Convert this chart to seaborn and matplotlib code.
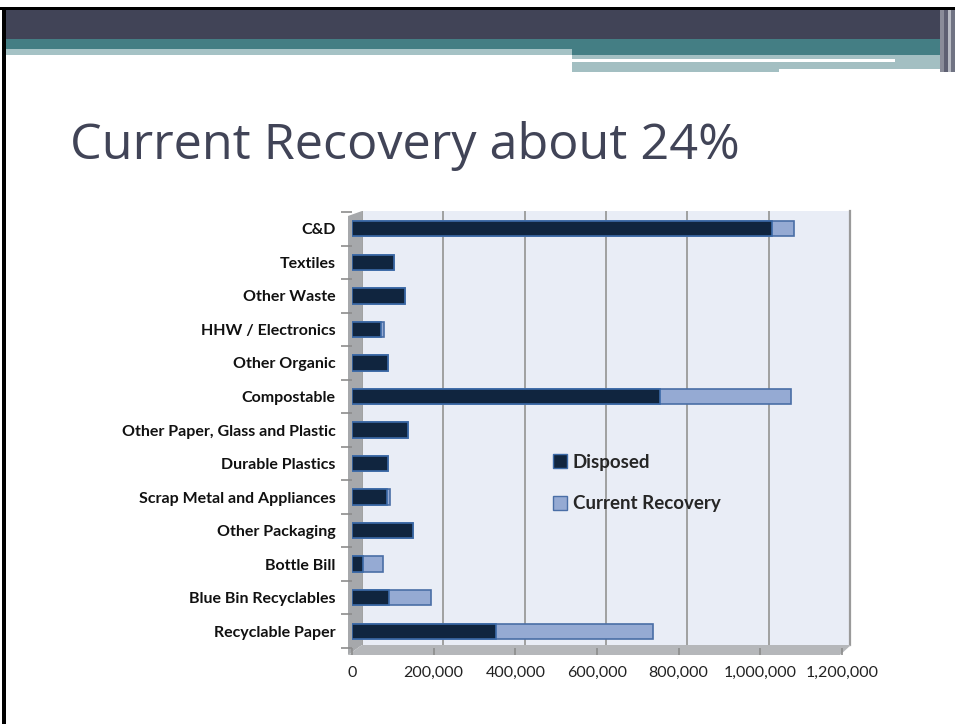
import matplotlib
matplotlib.use("Agg")
import matplotlib.pyplot as plt
import matplotlib.patches as mpatches
from matplotlib.ticker import FuncFormatter, FixedLocator
import seaborn as sns
import pandas as pd
import numpy as np

categories = ["C&D", "Textiles", "Other Waste", "HHW / Electronics", "Other Organic",
              "Compostable", "Other Paper, Glass and Plastic", "Durable Plastics",
              "Scrap Metal and Appliances", "Other Packaging", "Bottle Bill",
              "Blue Bin Recyclables", "Recyclable Paper"]
disposed = [1028000, 104000, 131000, 70000, 87000, 754000, 136000, 88000,
            85000, 149000, 27000, 91000, 352000]
recovery = [55000, 0, 0, 8000, 0, 320000, 0, 0, 8000, 0, 48000, 102000, 385000]
x_ticks = [0, 200000, 400000, 600000, 800000, 1000000, 1200000]
series_names = ["Disposed", "Current Recovery"]
title_text = "Current Recovery about 24%"

df = pd.DataFrame({"category": categories, "disposed": disposed, "recovery": recovery})
df["total"] = df["disposed"] + df["recovery"]

W, H = 955, 724
sns.set_theme(style="white")
plt.rcParams["font.family"] = ["Lato", "DejaVu Sans"]
fig = plt.figure(figsize=(W / 100, H / 100), dpi=100)
fig.patch.set_facecolor("white")

def frect(x0, y0, x1, y1, color, z=0):
    fig.patches.append(mpatches.Rectangle((x0 / W, 1 - y1 / H), (x1 - x0) / W, (y1 - y0) / H,
                                          transform=fig.transFigure, color=color, zorder=z, lw=0))

def fpoly(pts, color, z=0):
    fig.patches.append(mpatches.Polygon([(x / W, 1 - y / H) for x, y in pts], closed=True,
                                        transform=fig.transFigure, color=color, zorder=z, lw=0))

def fax(l, t, r, b, z):
    return fig.add_axes([l / W, 1 - b / H, (r - l) / W, (b - t) / H], zorder=z)

# slide header decorations
frect(0, 7, W, 10, "black")
frect(2, 7, 6, H, "black")
frect(6, 10, 940, 39, "#414457")
frect(6, 39, W, 49, "#447E84")
frect(6, 49, 572, 55, "#A5C2C5")
frect(572, 49, W, 55, "#447E84")
frect(572, 55, 948, 59, "#A3BFC2")
frect(572, 59, 895, 62, "white")
frect(895, 59, 948, 62, "#A3BFC2")
frect(572, 62, 779, 72, "#A3BFC2")
frect(779, 62, 948, 69, "#A3BFC2")
frect(940, 10, 944, 72, "#8A8C99")
frect(944, 10, 948, 72, "#5E6072")
frect(948, 10, 951, 72, "#B8BBC4")
frect(951, 10, W, 72, "#707383")

# title
fig.text(70 / W, 1 - 146 / H, title_text, fontsize=36.3, color="#414457",
         family=["Open Sans", "DejaVu Sans"], va="center", ha="left")

# 3D-ish walls: side wall and floor
fpoly([(348, 216), (362, 211), (362, 645), (348, 655)], "#A6A8AB", 1)
fpoly([(348, 655), (362, 645), (851, 645), (840, 655)], "#B5B7BA", 1)

# back wall with gridlines
axb = fax(362, 211, 850, 645, 1)
axb.set_facecolor("#E9EDF6")
axb.set_xlim(0, 1200000)
axb.set_xticks(x_ticks)
axb.set_yticks([])
axb.grid(axis="x", color="#9A9A9A", lw=1.3)
axb.tick_params(axis="x", length=0, labelbottom=False)
for s in ["top", "left", "bottom"]:
    axb.spines[s].set_visible(False)
axb.spines["right"].set_color("#9A9A9A")
axb.spines["right"].set_linewidth(1.6)

# bars
ax = fax(352, 212, 842, 648, 2)
ax.patch.set_alpha(0)
dark = "#10253F"
light = "#95AAD3"
sns.barplot(data=df, y="category", x="total", orient="h", color=light, width=0.46,
            edgecolor="#4A6EA6", linewidth=1.2, saturation=1, ax=ax, zorder=3)
sns.barplot(data=df, y="category", x="disposed", orient="h", color=dark, width=0.46,
            edgecolor="#3C6AA8", linewidth=1.2, saturation=1, ax=ax, zorder=4)

ax.set_xlim(0, 1200000)
ax.set_ylim(12.45, -0.5)
ax.xaxis.set_major_locator(FixedLocator(x_ticks))
ax.xaxis.set_major_formatter(FuncFormatter(lambda v, p: f"{int(v):,}"))
ax.set_yticks(np.arange(len(categories) + 1) - 0.5, minor=True)
for s in ["top", "left", "bottom", "right"]:
    ax.spines[s].set_visible(False)
ax.set_xlabel("")
ax.set_ylabel("")
ax.tick_params(axis="x", bottom=True, labelsize=11.5, colors="#222222", pad=8, length=5,
               direction="out", color="#8C8C8C", width=1.2)
ax.tick_params(axis="y", which="major", left=False, labelsize=11.5, pad=12, length=0)
ax.tick_params(axis="y", which="minor", left=True, length=8, color="#8C8C8C", width=1.2,
               direction="out")
for lbl in ax.get_xticklabels():
    lbl.set_color("#222222")
for lbl in ax.get_yticklabels():
    lbl.set_fontweight("bold")
    lbl.set_color("#111111")

handles = [mpatches.Patch(facecolor=dark, edgecolor="#3C6AA8", lw=1.0),
           mpatches.Patch(facecolor=light, edgecolor="#4A6EA6", lw=1.0)]
fig.legend(handles, series_names, loc="upper left", bbox_to_anchor=(536 / W, 1 - 437 / H),
           bbox_transform=fig.transFigure, frameon=False,
           handlelength=0.75, handleheight=0.75, handletextpad=0.3, labelspacing=1.3,
           prop={"family": ["Lato", "DejaVu Sans"], "size": 13.5, "weight": "bold"})

fig.savefig("out.png", dpi=100, facecolor="white")
